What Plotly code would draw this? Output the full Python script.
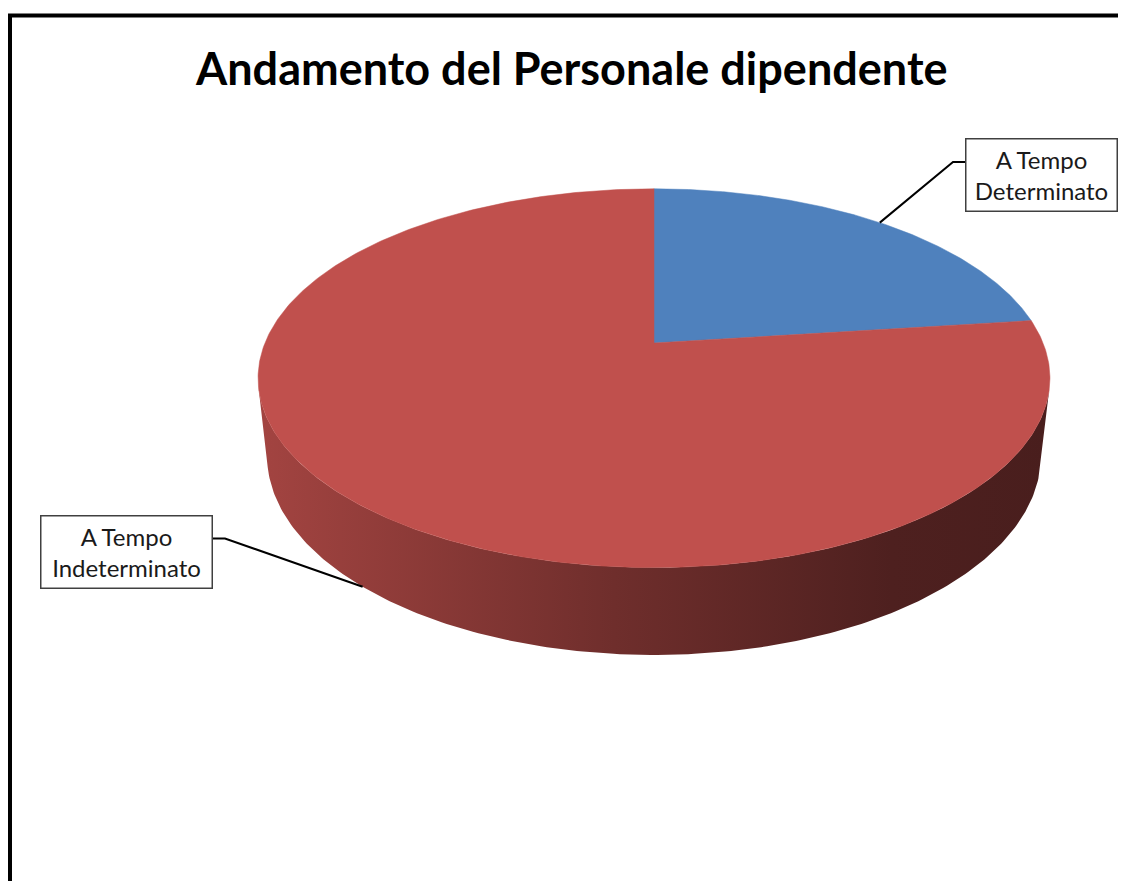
import numpy as np
import plotly.graph_objects as go

# ---------------- data ----------------
title = "Andamento del Personale dipendente"
labels = ["A Tempo<br>Determinato", "A Tempo<br>Indeterminato"]
values = [23, 77]
colors = ["#4F81BD", "#C0504D"]

# ---------------- pie geometry (layout parameters) ----------------
W, HGT = 1126, 881
PAGE_OFF = 8                   # browser body margin compensation
CX, CY = 654.0, 343.0          # screen position of pie centre (top face)
F = 1848.0                     # focal scale
D = 4.75                       # camera distance (in radii)
S_EL = 0.47                    # sin(elevation)
C_EL = np.sqrt(1 - S_EL ** 2)
DEPTH = 0.2275                 # pie thickness (in radii)
START = np.pi / 2              # first slice starts at the back (12 o'clock)


def proj(phi, z=0.0):
    x3, y3 = np.cos(phi), np.sin(phi)
    depth = D + y3 * C_EL - z * S_EL
    sx = x3
    sy = y3 * S_EL + z * C_EL
    return CX + F * sx / depth, CY - F * sy / depth


def shade(hexcol, f):
    h = hexcol.lstrip("#")
    r, g, b = (int(h[i:i + 2], 16) for i in (0, 2, 4))
    return "rgb(%d,%d,%d)" % (r * f, g * f, b * f)


fracs = np.array(values, float) / np.sum(values)
bounds = START - 2 * np.pi * np.concatenate([[0], np.cumsum(fracs)])

# visible front range of the cylinder wall (silhouette generators)
phi_sil = np.arcsin(-1.0 / (D * C_EL))        # ~ -13.8 deg
vis_hi = phi_sil
vis_lo = -np.pi - phi_sil                      # ~ -166.2 deg

fig = go.Figure()

# side walls
for i in range(len(values)):
    hi, lo = bounds[i], bounds[i + 1]
    a, b = min(hi, vis_hi), max(lo, vis_lo)
    if a <= b:
        continue
    ph = np.linspace(b, a, 200)
    xt, yt = proj(ph, 0.0)
    xb, yb = proj(ph[::-1], -DEPTH)
    fig.add_trace(go.Scatter(
        x=np.concatenate([xt, xb, xt[:1]]), y=np.concatenate([yt, yb, yt[:1]]),
        mode="lines", line=dict(width=0), fill="toself",
        fillgradient=dict(type="horizontal",
                          colorscale=[[0, shade(colors[i], 0.85)],
                                      [0.45, shade(colors[i], 0.58)],
                                      [0.8, shade(colors[i], 0.41)],
                                      [1, shade(colors[i], 0.385)]]),
        hoverinfo="skip", showlegend=False))

# top faces
for i in range(len(values)):
    hi, lo = bounds[i], bounds[i + 1]
    ph = np.linspace(hi, lo, 400)
    xa, ya = proj(ph, 0.0)
    fig.add_trace(go.Scatter(
        x=np.concatenate([[CX], xa, [CX]]), y=np.concatenate([[CY], ya, [CY]]),
        mode="lines", line=dict(width=0.5, color=colors[i]), fill="toself",
        fillcolor=colors[i], name=labels[i].replace("<br>", " "),
        hoverinfo="name", showlegend=False))

# ---------------- data labels with leader lines ----------------
label_boxes = [  # (centre x, centre y, width, height, elbow side)
    (1041.5, 175.0, 153, 74, "left"),
    (126.5, 551.5, 173, 74, "right"),
]
anchor_z = [0.0, -DEPTH]
lab_font = dict(family="Lato, Open Sans, sans-serif", size=24, color="#1a1a1a")
for i, (bx, by, bw, bh, side) in enumerate(label_boxes):
    mid = (bounds[i] + bounds[i + 1]) / 2
    axp, ayp = proj(mid, anchor_z[i])
    ly = by - bh / 2 + 24
    if side == "left":
        ex = bx - bw / 2
        pts_x, pts_y = [ex, ex - 12, axp], [ly, ly, ayp]
    else:
        ex = bx + bw / 2
        pts_x, pts_y = [ex, ex + 12, axp], [ly, ly, ayp]
    fig.add_trace(go.Scatter(x=pts_x, y=pts_y, mode="lines",
                             line=dict(color="black", width=2),
                             hoverinfo="skip", showlegend=False))
    fig.add_annotation(x=bx, y=by, xref="x", yref="y", text=labels[i],
                       showarrow=False, font=lab_font, align="center",
                       width=bw - 3, height=bh - 3, borderpad=0,
                       bordercolor="#404040", borderwidth=1.5, bgcolor="white",
                       xanchor="center", yanchor="middle")

# title
fig.add_annotation(x=571, y=68, xref="x", yref="y", text="<b>%s</b>" % title,
                   showarrow=False, xanchor="center", yanchor="middle",
                   font=dict(family="Lato, Open Sans, sans-serif", size=45,
                             color="black"))

# chart border
fig.add_shape(type="rect", x0=10, y0=15.5, x1=W + 40, y1=HGT + 40, xref="x", yref="y",
              line=dict(color="black", width=4), layer="above")

fig.update_layout(
    width=W, height=HGT, margin=dict(l=0, r=0, t=0, b=0),
    paper_bgcolor="white", plot_bgcolor="white",
    xaxis=dict(range=[PAGE_OFF, W + PAGE_OFF], visible=False, fixedrange=True),
    yaxis=dict(range=[HGT + PAGE_OFF, PAGE_OFF], visible=False, fixedrange=True),
    showlegend=False,
)

fig.write_html("out.html")
